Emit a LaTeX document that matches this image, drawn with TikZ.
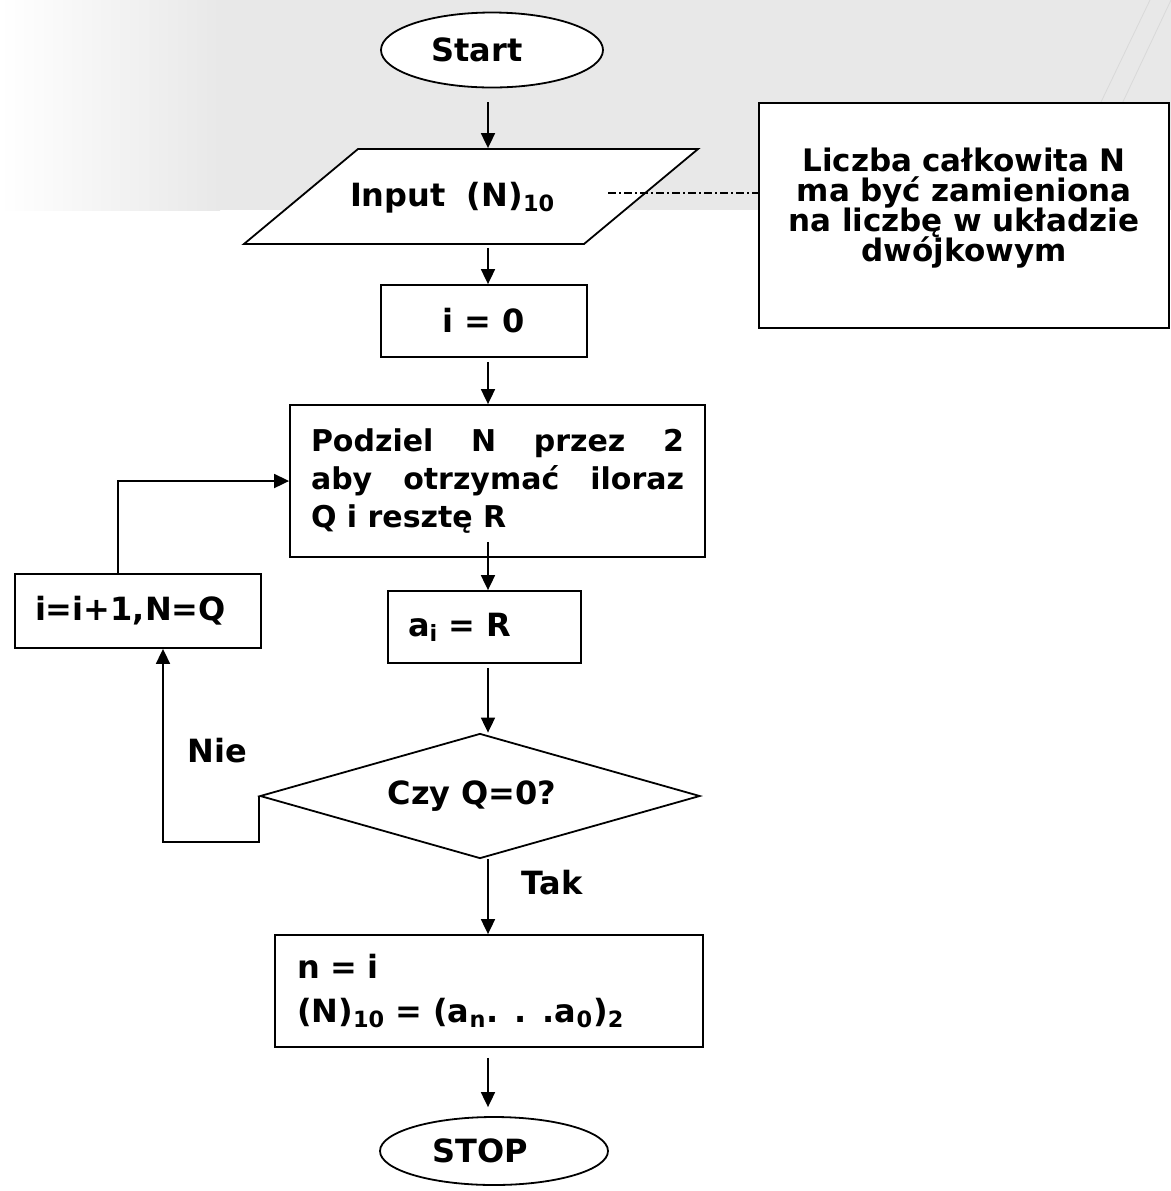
\documentclass[tikz,border=0pt]{standalone}
\usepackage{fontspec}
\setmainfont{DejaVu Sans}
\usetikzlibrary{positioning,arrows.meta,shapes.geometric}
\tikzset{
  fcterm/.style={ellipse, draw=black, fill=white, line width=0.9pt,
                 inner sep=0pt, font=\fcFont},
  fcio/.style={trapezium, trapezium left angle=39.8, trapezium right angle=140.2,
               draw=black, fill=white, line width=0.9pt, inner xsep=0pt,
               inner ysep=15.75pt, text height=13pt, text depth=3pt, font=\fcFont},
  fcproc/.style={rectangle, draw=black, fill=white, line width=0.9pt,
                 inner sep=0pt, font=\fcFont},
  fcdec/.style={diamond, aspect=3.52, draw=black, fill=white, line width=0.9pt,
                inner sep=0pt, font=\fcFont},
  fclab/.style={font=\fcFont, inner sep=0pt},
  fcflow/.style={draw=black, line width=0.9pt, -{Triangle[length=7.5pt,width=7pt]}},
  fcdash/.style={draw=black, line width=0.6pt, dash pattern=on 4pt off 1.5pt on 1pt off 1.5pt},
}
\newcommand{\fcFont}{\fontsize{16}{19}\selectfont\bfseries}
\newcommand{\fcFontP}{\fontsize{15}{19}\selectfont\bfseries}
\newcommand{\fcFontL}{\fontsize{16}{22}\selectfont\bfseries}
\newcommand{\fcFontN}{\fontsize{15.5}{15}\selectfont\bfseries\lineskiplimit=-10pt}
\newcommand{\fcBand}{black!9}

\begin{document}
\begin{tikzpicture}[x=0.5pt,y=-0.5pt]
  \useasboundingbox (0,0) rectangle (1171,1191);
  % slide background
  \shade[left color=white, right color=\fcBand] (0,0) rectangle (220,210);
  \fill[\fcBand] (220,0) rectangle (1171,210);
  \draw[black!15, line width=0.4pt] (1171,0) -- (1112,125);
  \draw[black!15, line width=0.4pt] (1150,0) -- (1090,125);

  \node[fcterm, minimum width=111pt, minimum height=37.5pt] (start) at (492,50) {Start\hspace*{15pt}};
  \node[fcio, text width=113pt, align=left] (input) at (471,196.5) {\hspace*{-4pt}Input~~(N)\textsubscript{10}};
  \node[fcproc, minimum width=103pt, minimum height=36pt] (init) at (484,321) {i = 0};
  \node[fcproc, minimum width=207.5pt, minimum height=76pt, text width=186.5pt,
        inner xsep=10.5pt, align=justify, font=\fcFontP] (divide) at (497.5,481)
        {Podziel N przez 2\linebreak aby otrzymać iloraz\linebreak Q i resztę R};
  \node[fcproc, minimum width=96.5pt, minimum height=36pt, text width=76.5pt,
        inner xsep=10pt, align=left] (store) at (484.5,627) {a\textsubscript{i} = R};
  \node[fcproc, minimum width=123pt, minimum height=37pt, text width=103pt,
        inner xsep=10pt, align=left] (incr) at (138,611) {i=i+1,N=Q};
  \node[fcdec, minimum width=220pt, minimum height=62.5pt] (check) at (480,796) {Czy Q=0?\hspace*{8pt}};
  \node[fcproc, minimum width=214pt, minimum height=56pt, text width=192pt,
        inner xsep=11pt, align=left, font=\fcFontL] (result) at (489,991)
        {n = i\\(N)\textsubscript{10} = (a\textsubscript{n}. . .a\textsubscript{0})\textsubscript{2}};
  \node[fcterm, minimum width=114pt, minimum height=34pt] (stop) at (494,1151) {STOP\hspace*{13.5pt}};
  \node[fcproc, minimum width=205pt, minimum height=112.5pt, text width=190pt,
        align=center, font=\fcFontN] (note) at (964,215.5)
        {Liczba całkowita N\\ma być zamieniona\\na liczbę w układzie\\dwójkowym\rule[-11pt]{0pt}{11pt}};

  \node[fclab] (no) at (217,751) {Nie};
  \node[fclab] (yes) at (552,883) {Tak};

  \coordinate (spine) at (488,0);
  \coordinate (loopup) at (118,0);
  \coordinate (loopno) at (163,0);
  \coordinate (notelink) at (608,193);

  \draw[fcflow, shorten <=7pt] (start.south -| spine) -- (input.north -| spine);
  \draw[fcflow, shorten <=1.5pt] (input.south -| spine) -- (init.north -| spine);
  \draw[fcflow, shorten <=2pt] (init.south -| spine) -- (divide.north -| spine);
  \draw[fcflow, shorten <=-8pt] (divide.south -| spine) -- (store.north -| spine);
  \draw[fcflow, shorten <=2pt] (store.south -| spine) -- (check.north -| spine);
  \draw[fcflow] (check.south -| spine) -- (result.north -| spine);
  \draw[fcflow, shorten <=5pt, shorten >=4.5pt] (result.south -| spine) -- (stop.north -| spine);
  \draw[fcflow] (incr.north -| loopup) |- (divide.west);
  \draw[fcflow] (check.west) -- ++(0,46) -| (incr.south -| loopno);
  \draw[fcdash] (notelink) -- (notelink -| note.west);
\end{tikzpicture}
\end{document}
